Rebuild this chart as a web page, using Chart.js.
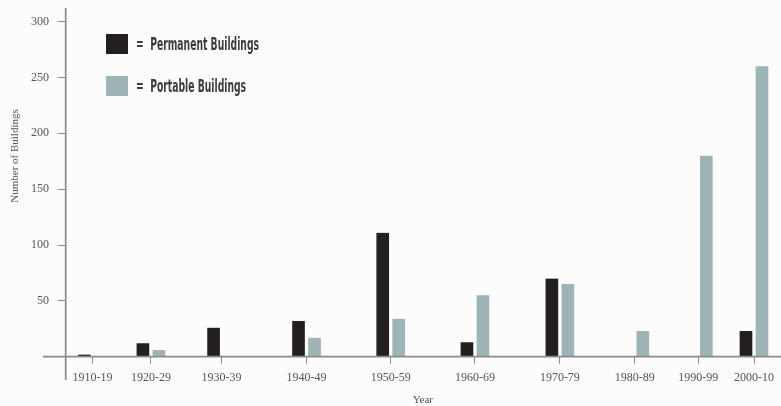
<!DOCTYPE html>
<html>
<head>
<meta charset="utf-8">
<script src="https://cdn.jsdelivr.net/npm/chart.js@4/dist/chart.umd.min.js"></script>
<style>
  html, body { margin: 0; padding: 0; background: #fcfcfc; }
  #wrap { width: 781px; height: 406px; position: relative; }
</style>
</head>
<body>
<div id="wrap"><canvas id="c" width="781" height="406"></canvas></div>
<script>
// ---- data ----
const decades = ['1910-19', '1920-29', '1930-39', '1940-49', '1950-59', '1960-69', '1970-79', '1980-89', '1990-99', '2000-10'];
const permanent = [2, 12, 26, 32, 111, 13, 70, null, null, 23];
const portable = [null, 6, null, 17, 34, 55, 65, 23, 180, 260];
const yTickValues = [50, 100, 150, 200, 250, 300];
const yTitle = 'Number of Buildings';
const xTitle = 'Year';
// layout: where each decade sits along the (irregular) horizontal axis, 0-100
const decadeSlots = [3.7, 11.9, 21.8, 33.7, 45.5, 57.3, 69.2, 79.7, 88.6, 96.4];

const DARK = '#231f20';
const TEAL = '#9cb4b6';
const AXIS = '#8a8a8a';
const TEXT = '#555555';
const SERIF = "'Liberation Serif', 'DejaVu Serif', serif";

const toPoints = arr => arr.map((v, i) => ({ x: decadeSlots[i], y: v }));

const axesPlugin = {
  id: 'customAxes',
  afterDatasetsDraw(chart) {
    const { ctx, chartArea: a } = chart;
    ctx.save();
    ctx.strokeStyle = AXIS;
    ctx.lineWidth = 1.7;
    ctx.beginPath();
    ctx.moveTo(43, a.bottom);
    ctx.lineTo(chart.width, a.bottom);
    ctx.moveTo(a.left - 0.3, 8);
    ctx.lineTo(a.left - 0.3, 380);
    ctx.stroke();
    // y-axis title
    ctx.fillStyle = TEXT;
    ctx.font = '11px ' + SERIF;
    ctx.textAlign = 'center';
    ctx.textBaseline = 'middle';
    ctx.translate(15, 156);
    ctx.rotate(-Math.PI / 2);
    ctx.fillText(yTitle, 0, 0);
    ctx.restore();
  }
};

const legendPlugin = {
  id: 'customLegend',
  afterDraw(chart) {
    const { ctx } = chart;
    const items = chart.data.datasets;
    ctx.save();
    items.forEach((ds, i) => {
      const top = 34 + i * 42;
      ctx.fillStyle = ds.backgroundColor;
      ctx.fillRect(106, top, 22, 20);
      ctx.save();
      ctx.translate(136, top + 10);
      ctx.scale(0.57, 1);
      ctx.fillStyle = '#3c3c3c';
      ctx.font = "bold 18px 'Liberation Sans Narrow', 'DejaVu Sans Condensed', sans-serif";
      ctx.textAlign = 'left';
      ctx.textBaseline = 'middle';
      ctx.fillText('=  ' + ds.label, 0, 1);
      ctx.restore();
    });
    ctx.restore();
  }
};

new Chart(document.getElementById('c'), {
  type: 'bar',
  data: {
    datasets: [
      {
        label: 'Permanent Buildings',
        data: toPoints(permanent),
        backgroundColor: DARK,
        borderColor: 'rgba(0,0,0,0)',
        borderWidth: { left: 2, right: 2, top: 0, bottom: 0 },
        barThickness: 16
      },
      {
        label: 'Portable Buildings',
        data: toPoints(portable),
        backgroundColor: TEAL,
        borderColor: 'rgba(0,0,0,0)',
        borderWidth: { left: 2, right: 2, top: 0, bottom: 0 },
        barThickness: 16
      }
    ]
  },
  options: {
    responsive: false,
    animation: false,
    layout: { padding: { left: 0, right: 0, top: 21.6, bottom: 0 } },
    plugins: {
      legend: { display: false },
      tooltip: { enabled: false }
    },
    scales: {
      x: {
        type: 'linear',
        min: 0,
        max: 100,
        offset: false,
        afterBuildTicks(scale) {
          scale.ticks = decadeSlots.map(v => ({ value: v }));
        },
        afterFit(scale) { scale.height = 49.3; },
        border: { display: false },
        grid: { offset: false, drawOnChartArea: false, drawTicks: true, tickLength: 7, color: AXIS, lineWidth: 1 },
        ticks: {
          autoSkip: false,
          maxRotation: 0,
          padding: 7,
          color: TEXT,
          font: { family: SERIF, size: 12 },
          callback: (value, index) => decades[index]
        },
        title: {
          display: true,
          text: xTitle,
          color: TEXT,
          font: { family: SERIF, size: 11, lineHeight: 1.1 },
          padding: { top: 0, bottom: 0 }
        }
      },
      y: {
        min: 0,
        max: 300,
        afterBuildTicks(scale) {
          scale.ticks = yTickValues.map(v => ({ value: v }));
        },
        afterFit(scale) { scale.width = 66; },
        border: { display: false },
        grid: { drawOnChartArea: false, drawTicks: true, tickLength: 8, color: AXIS, lineWidth: 1 },
        ticks: {
          padding: 9,
          color: TEXT,
          font: { family: SERIF, size: 12 }
        }
      }
    }
  },
  plugins: [axesPlugin, legendPlugin]
});
</script>
</body>
</html>
